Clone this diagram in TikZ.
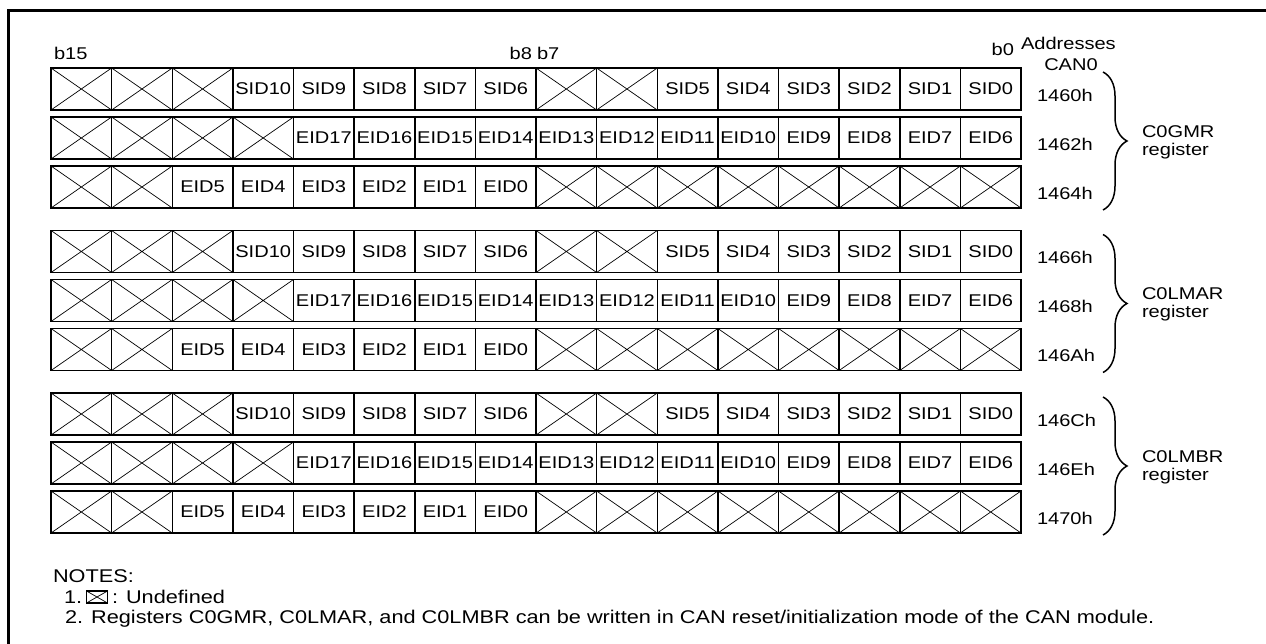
\documentclass[tikz,border=0pt]{standalone}
\usepackage{fontspec}
\setmainfont{Liberation Sans}[FakeStretch=1.18]
\usetikzlibrary{decorations.pathreplacing}
\def\xmark{X}
\tikzset{
  cell/.style={draw, line width=1.5pt, minimum width=60.625pt, minimum height=42pt, inner sep=0pt, outer sep=0pt, font=\fontsize{17}{20}\selectfont},
  xcell/.style={path picture={\draw[line width=0.7pt]
     (path picture bounding box.north west) -- (path picture bounding box.south east)
     (path picture bounding box.north east) -- (path picture bounding box.south west);}},
  lbl/.style={inner sep=0pt, outer sep=0pt, font=\fontsize{17}{20}\selectfont},
  notelbl/.style={inner sep=0pt, outer sep=0pt, font=\fontsize{18.4}{21}\selectfont},
  regbrace/.style={decorate, decoration={brace, amplitude=24pt}, line width=1.5pt},
  frameline/.style={line width=3pt},
}
\newcommand\regrow[3]{%
  \foreach \t [count=\i from 0] in {#3} {
    \ifx\t\xmark
      \node[cell,xcell] (#1-\i) at ({51+(\i+0.5)*60.625},{#2+21}) {};
    \else
      \node[cell] (#1-\i) at ({51+(\i+0.5)*60.625},{#2+21}) {\makebox[0pt]{\t}};
    \fi
  }}
\begin{document}
\begin{tikzpicture}[x=1pt,y=-1pt]
\useasboundingbox (0,0) rectangle (1266,644);
\coordinate (fbl) at (8,650);
\coordinate (ftl) at (8,11);
\coordinate (ftr) at (1272,11);
\draw[frameline] (fbl) -- (ftl) -- (ftr);

% bit labels
\node[lbl, anchor=west] (b15) at (54,53) {b15};
\node[lbl, anchor=east] (b8) at (532,53) {b8};
\node[lbl, anchor=west] (b7) at (537,53) {b7};
\node[lbl, anchor=east] (b0) at (1014,49) {b0};
\node[lbl, anchor=west] (addr) at (1021,43) {Addresses};
\node[lbl] (can0) at (1071,65) {CAN0};

% registers
\foreach \g/\na/\nb/\nc/\reg [count=\k from 0] in
   {1/1460h/1462h/1464h/C0GMR, 2/1466h/1468h/146Ah/C0LMAR, 3/146Ch/146Eh/1470h/C0LMBR} {
  \pgfmathsetmacro\top{68+162.5*\k}
  \regrow{g\g a}{\top}{X,X,X,SID10,SID9,SID8,SID7,SID6,X,X,SID5,SID4,SID3,SID2,SID1,SID0}
  \regrow{g\g b}{\top+49}{X,X,X,X,EID17,EID16,EID15,EID14,EID13,EID12,EID11,EID10,EID9,EID8,EID7,EID6}
  \regrow{g\g c}{\top+98}{X,X,EID5,EID4,EID3,EID2,EID1,EID0,X,X,X,X,X,X,X,X}
  \node[lbl, anchor=west] (ad\g a) at (1037,\top+27) {\na};
  \node[lbl, anchor=west] (ad\g b) at (1037,\top+76) {\nb};
  \node[lbl, anchor=west] (ad\g c) at (1037,\top+125) {\nc};
  \coordinate (bt\g) at (1103,\top+4);
  \coordinate (bb\g) at (1103,\top+142);
  \draw[regbrace] (bt\g) -- (bb\g);
  \node[lbl, anchor=west, align=left, font=\fontsize{17}{18}\selectfont] (reg\g) at (1142,\top+74) {\reg\\register};
}

% notes
\node[notelbl, anchor=base west] (notes) at (53,582.5) {NOTES:};
\node[notelbl, anchor=base west] (n1) at (64,603.5) {1.};
\node[draw, line width=1.2pt, minimum width=21pt, minimum height=12pt, inner sep=0pt, xcell] (nbox) at (97,597) {};
\node[notelbl, anchor=base west] (n1t) at (112,603.5) {: Undefined};
\node[notelbl, anchor=base west] (n2) at (65,623.5) {2. Registers C0GMR, C0LMAR, and C0LMBR can be written in CAN reset/initialization mode of the CAN module.};
\end{tikzpicture}
\end{document}
